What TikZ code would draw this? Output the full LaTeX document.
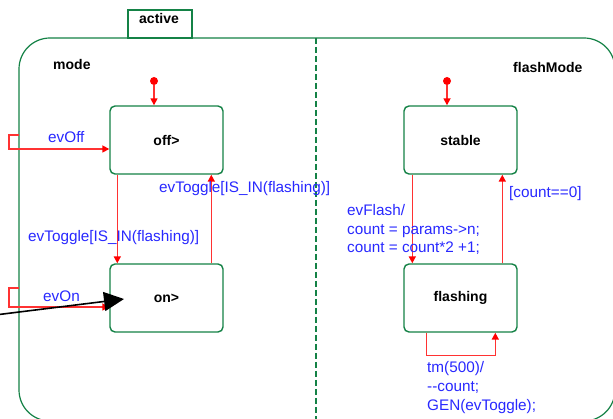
\documentclass[tikz,border=0pt]{standalone}
\usepackage{fontspec}
\setmainfont{Liberation Sans}
\usetikzlibrary{arrows.meta}
\definecolor{stgreen}{RGB}{20,130,70}
\definecolor{trred}{RGB}{255,50,50}
\definecolor{lblblue}{RGB}{40,40,255}
\tikzset{
  frame/.style={draw=stgreen, line width=1.2pt},
  statebox/.style={draw=stgreen, line width=1.4pt, rounded corners=5pt,
    minimum width=113pt, minimum height=68pt, inner sep=0pt,
    font=\fontsize{14}{16}\selectfont\bfseries},
  title/.style={inner sep=0pt, anchor=base west, font=\fontsize{14}{16}\selectfont\bfseries},
  tr/.style={draw=trred, line width=1.6pt, -{Triangle[length=7pt,width=7pt,fill=red,color=red]}},
  lbl/.style={inner sep=0pt, anchor=base west, text=lblblue,
    font=\fontsize{15.3}{18.6}\selectfont, align=left},
  initdot/.style={circle, fill=red, inner sep=0pt, minimum size=8pt}
}
\begin{document}
\begin{tikzpicture}[x=1pt, y=-1pt]
\useasboundingbox (0,0) rectangle (613,419);
\clip (0,0) rectangle (613,419);
\fill[white] (0,0) rectangle (613,419);

% composite state with its name tab
\draw[frame] (128,10) rectangle (192,38);
\node[title] (activelbl) at (139,24) {active};
\draw[frame, rounded corners=31pt] (19,38) rectangle (615,421);
\draw[frame, dash pattern=on 6pt off 3pt] (316,38) -- (316,421);

% region titles
\node[title] (modelbl) at (53,70) {mode};
\node[title] (flashlbl) at (513,73) {flashMode};

% states
\node[statebox] (off) at (166.5,140) {off>};
\node[statebox] (on) at (166.5,298) {on>};
\node[statebox] (stable) at (460.5,140) {stable};
\node[statebox] (flashing) at (460.5,298) {flashing};

% initial pseudostates
\node[initdot] (init1) at (154,81) {};
\node[initdot] (init2) at (447,81) {};
\draw[tr] (init1) -- (off.north -| init1);
\draw[tr] (init2) -- (stable.north -| init2);

% transitions entering from the composite border
\coordinate (offstub) at (19,135);
\coordinate (onstub) at (19,288);
\draw[tr] (offstub) -- (9,135) |- (off.west |- 0,149);
\node[lbl] (evofflbl) at (48,143) {evOff};
\draw[tr] (onstub) -- (9,288) |- (on.west |- 0,307);
\node[lbl] (evonlbl) at (43,302) {evOn};

% mode region transitions
\draw[tr] ([xshift=8pt]off.south west) -- ([xshift=8pt]on.north west);
\draw[tr] ([xshift=102pt]on.north west) -- ([xshift=102pt]off.south west);
\node[lbl] (togdown) at (28,242) {evToggle[IS\_IN(flashing)]};
\node[lbl] (togup) at (159,193) {evToggle[IS\_IN(flashing)]};

% flashMode region transitions
\draw[tr] ([xshift=9pt]stable.south west) -- ([xshift=9pt]flashing.north west);
\draw[tr] ([xshift=99pt]flashing.north west) -- ([xshift=99pt]stable.south west);
\node[lbl] (flashlbl2) at (347,253) {evFlash/\\count = params->n;\\count = count*2 +1;};
\node[lbl] (countlbl) at (509,198) {[count==0]};
\draw[tr] ([xshift=23pt]flashing.south west) -- ++(0,23) -| ([xshift=92pt]flashing.south west);
\node[lbl] (tmlbl) at (427,410) {tm(500)/\\-{}-count;\\GEN(evToggle);};

% pointer arrow
\coordinate (ptrstart) at (-5,315);
\coordinate (ptrtip) at (124,299);
\draw[line width=1.6pt, -{Triangle[length=20pt,width=19pt]}] (ptrstart) -- (ptrtip);
\end{tikzpicture}
\end{document}
